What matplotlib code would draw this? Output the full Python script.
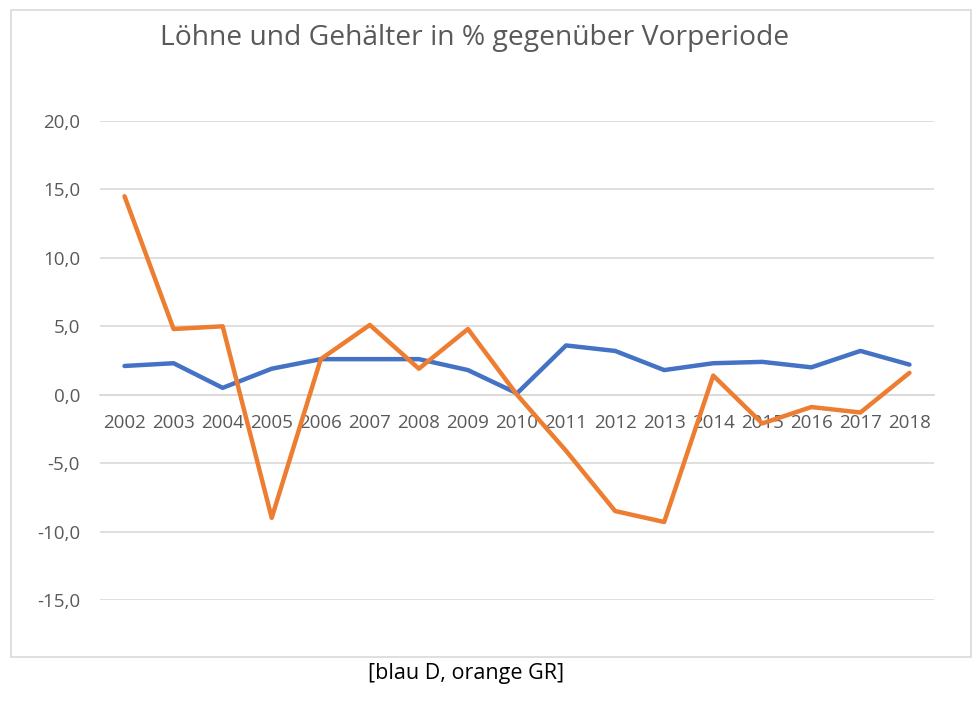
import matplotlib
matplotlib.use("Agg")
import matplotlib.pyplot as plt
from matplotlib.patches import Rectangle
from matplotlib.ticker import FuncFormatter

years = ["2002", "2003", "2004", "2005", "2006", "2007", "2008", "2009", "2010",
         "2011", "2012", "2013", "2014", "2015", "2016", "2017", "2018"]
de_values = [2.1, 2.3, 0.5, 1.9, 2.6, 2.6, 2.6, 1.8, 0.1,
             3.6, 3.2, 1.8, 2.3, 2.4, 2.0, 3.2, 2.2]
gr_values = [14.5, 4.8, 5.0, -9.0, 2.6, 5.1, 1.9, 4.8, 0.0,
             -4.1, -8.5, -9.3, 1.4, -2.1, -0.9, -1.3, 1.6]
y_ticks = [-15, -10, -5, 0, 5, 10, 15, 20]
title = "Löhne und Gehälter in % gegenüber Vorperiode"
caption = "[blau D, orange GR]"

plt.rcParams['font.family'] = ['Open Sans', 'DejaVu Sans']
W, H = 980, 701
fig = plt.figure(figsize=(W / 100, H / 100), dpi=100)
fig.patch.set_facecolor("white")

# chart border
fig.patches.append(Rectangle((11 / W, 1 - 657 / H), (971 - 11) / W, (657 - 10) / H,
                             transform=fig.transFigure, fill=False,
                             edgecolor="#D9D9D9", linewidth=1.2))

ax = fig.add_axes([100 / W, 1 - 600 / H, (934 - 100) / W, (600 - 121) / H])
x = list(range(len(years)))
ax.plot(x, de_values, color="#4472C4", linewidth=3.2, solid_capstyle="round",
        solid_joinstyle="round", zorder=3)
ax.plot(x, gr_values, color="#ED7D31", linewidth=3.2, solid_capstyle="round",
        solid_joinstyle="round", zorder=4)

ax.set_xlim(-0.5, len(years) - 0.5)
ax.set_ylim(-15, 20)
ax.set_yticks(y_ticks)
ax.yaxis.set_major_formatter(FuncFormatter(lambda v, p: f"{v:.1f}".replace(".", ",")))
ax.grid(axis="y", color="#D9D9D9", linewidth=1.2)
ax.set_axisbelow(True)
for s in ["top", "right", "left"]:
    ax.spines[s].set_visible(False)
ax.spines["bottom"].set_position(("data", 0))
ax.spines["bottom"].set_color("#D9D9D9")
ax.spines["bottom"].set_linewidth(1.2)
ax.set_xticks(x)
ax.set_xticklabels(years)
ax.tick_params(axis="x", length=0, pad=14, labelsize=13.5, labelcolor="#595959")
ax.tick_params(axis="y", length=0, pad=14.4, labelsize=13.5, labelcolor="#595959")

fig.text(475 / W, 1 - 38 / H, title, ha="center", va="center", fontsize=20.3,
         color="#595959")
fig.text(466 / W, 1 - 674 / H, caption, ha="center", va="center", fontsize=15.5,
         color="#000000")

fig.savefig("out.png", dpi=100)
